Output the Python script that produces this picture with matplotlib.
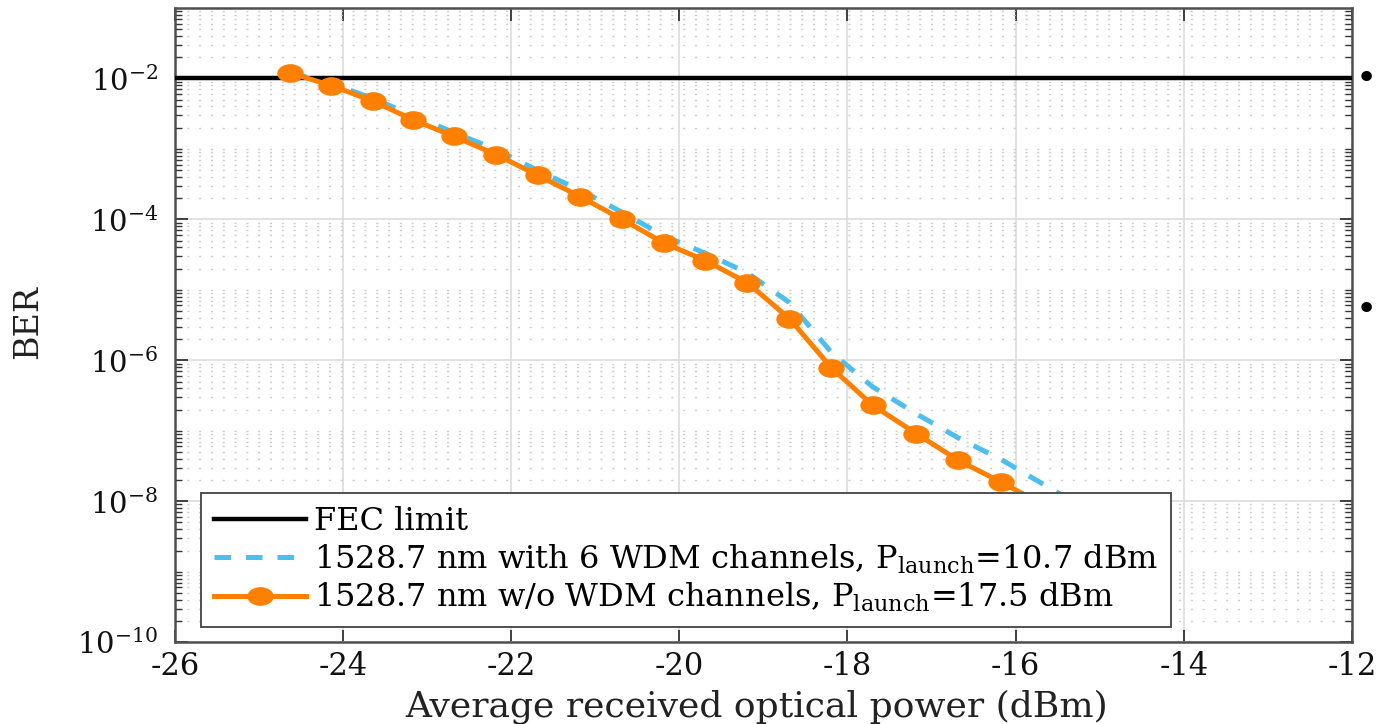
import numpy as np
import matplotlib
matplotlib.use("Agg")
import matplotlib.pyplot as plt
from matplotlib.ticker import FixedLocator, NullFormatter
from matplotlib.path import Path

plt.rcParams['font.family'] = ['DejaVu Serif']
plt.rcParams['mathtext.fontset'] = 'dejavuserif'

# data
fec_level = 1e-2

power_wdm = [-24.63, -24.14, -23.65, -23.17, -22.68, -22.18, -21.68, -21.18, -20.68, -20.18,
             -19.69, -19.19, -18.69, -18.19, -17.70, -17.18, -16.68, -16.17, -15.67, -15.17]
ber_wdm = [1.2e-2, 8.5e-3, 5.2e-3, 3.0e-3, 1.7e-3, 9.8e-4, 4.9e-4, 2.6e-4, 1.26e-4, 5.8e-5,
           3.3e-5, 1.74e-5, 6.6e-6, 1.29e-6, 4.2e-7, 1.74e-7, 7.9e-8, 3.9e-8, 1.74e-8, 7.8e-9]

power_solo = [-24.63, -24.14, -23.65, -23.17, -22.68, -22.18, -21.68, -21.18, -20.68, -20.18,
              -19.69, -19.19, -18.69, -18.19, -17.70, -17.18, -16.68, -16.17, -15.67]
ber_solo = [1.2e-2, 7.9e-3, 4.8e-3, 2.6e-3, 1.5e-3, 8.3e-4, 4.2e-4, 2.1e-4, 1.0e-4, 4.6e-5,
            2.6e-5, 1.26e-5, 3.9e-6, 7.8e-7, 2.3e-7, 9.1e-8, 3.8e-8, 1.86e-8, 8.9e-9]

labels = ['FEC limit',
          '1528.7 nm with 6 WDM channels, P$_{\\mathrm{launch}}$=10.7 dBm',
          '1528.7 nm w/o WDM channels, P$_{\\mathrm{launch}}$=17.5 dBm']

x_ticks = [-26, -24, -22, -20, -18, -16, -14, -12]
y_ticks = [1e-10, 1e-8, 1e-6, 1e-4, 1e-2]
y_tick_labels = ['$10^{-10}$', '$10^{-8}$', '$10^{-6}$', '$10^{-4}$', '$10^{-2}$']

# the source picture is stretched sideways, so the markers are wide ellipses
circ = Path.unit_circle()
wide_dot = Path(circ.vertices * [1.45, 1.0], circ.codes)

fig = plt.figure(figsize=(13.78, 7.24), dpi=100)
ax = fig.add_axes([0.127, 0.113, 0.854, 0.876])

ax.axhline(fec_level, color='black', lw=3.2, label=labels[0], zorder=4)
ax.plot(power_wdm, ber_wdm, color='#4DBEEE', lw=3.6, ls=(0, (3.3, 3.0)),
        label=labels[1], zorder=3)
ax.plot(power_solo, ber_solo, color='#FF7F00', lw=3.6, marker=wide_dot, ms=18,
        label=labels[2], zorder=5)

ax.set_yscale('log')
ax.set_xlim(-26, -12)
ax.set_ylim(1e-10, 1e-1)
ax.xaxis.set_major_locator(FixedLocator(x_ticks))
ax.set_xticklabels([str(t) for t in x_ticks])
ax.yaxis.set_major_locator(FixedLocator(y_ticks))
ax.set_yticklabels(y_tick_labels)
minor = [m * 10.0**k for k in range(-10, -1) for m in range(1, 10)
         if not (m == 1 and k % 2 == 0)]
ax.yaxis.set_minor_locator(FixedLocator(minor))
ax.yaxis.set_minor_formatter(NullFormatter())

ax.grid(True, which='major', color='#dcdcdc', lw=1.2, ls='-')
ax.grid(True, which='minor', axis='y', color='#cccccc', lw=1.0, ls=(0, (1.5, 7)))
ax.set_axisbelow(True)

ax.tick_params(which='both', direction='in', top=True, right=True,
               colors='#333333', labelcolor='#111111')
ax.tick_params(axis='x', labelsize=22, pad=6)
ax.tick_params(axis='y', labelsize=21, pad=12)
ax.tick_params(which='major', length=9, width=1.3)
ax.tick_params(which='minor', length=5, width=1.0)
for s in ax.spines.values():
    s.set_color('#505050')
    s.set_linewidth(1.8)

ax.set_xlabel('Average received optical power (dBm)', fontsize=26, color='#222222')
ax.xaxis.set_label_coords(0.4945, -0.074)
fig.text(28 / 1378, 1 - 322 / 724, 'BER', rotation=90, ha='center', va='center',
         fontsize=24, color='#222222')

leg = ax.legend(loc='lower left', bbox_to_anchor=(0.022, 0.024), fontsize=23,
                handlelength=2.9, handletextpad=0.25, borderpad=0.4, borderaxespad=0,
                labelspacing=0.17, fancybox=False, framealpha=1, edgecolor='#505050')
leg.set_zorder(10)
leg.get_frame().set_linewidth(1.4)

fig.text(0.9995, 0.891, '\u2022', fontsize=26, ha='right', va='center', family='DejaVu Sans')
fig.text(0.9995, 0.572, '\u2022', fontsize=26, ha='right', va='center', family='DejaVu Sans')

fig.savefig('out.png', dpi=100)
